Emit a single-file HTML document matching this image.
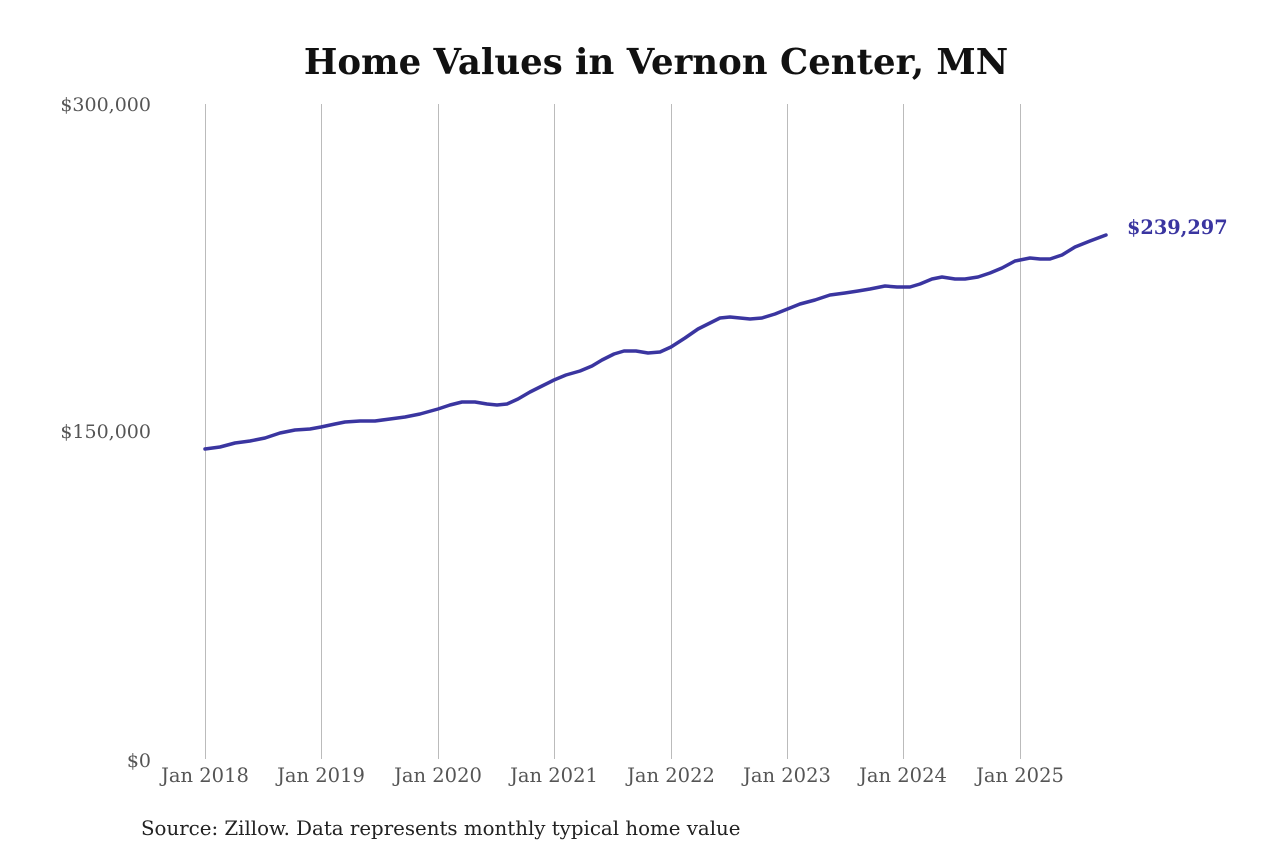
<!DOCTYPE html>
<html><head><meta charset="utf-8"><style>
html,body{margin:0;padding:0;background:#fff;}
svg{display:block;}
</style></head><body>
<svg width="1280" height="853" xmlns="http://www.w3.org/2000/svg" font-family="'DejaVu Serif','Liberation Serif',serif">
<rect width="1280" height="853" fill="#fff"/>
<text x="656" y="74" text-anchor="middle" font-size="35.5" font-weight="bold" fill="#111">Home Values in Vernon Center, MN</text>
<g stroke="#bbb" stroke-width="1">
<line x1="205.5" y1="104" x2="205.5" y2="759"/>
<line x1="321.5" y1="104" x2="321.5" y2="759"/>
<line x1="438.5" y1="104" x2="438.5" y2="759"/>
<line x1="554.5" y1="104" x2="554.5" y2="759"/>
<line x1="671.5" y1="104" x2="671.5" y2="759"/>
<line x1="787.5" y1="104" x2="787.5" y2="759"/>
<line x1="903.5" y1="104" x2="903.5" y2="759"/>
<line x1="1020.5" y1="104" x2="1020.5" y2="759"/>
</g>
<g font-size="19" fill="#555">
<text x="151" y="111" text-anchor="end">$300,000</text>
<text x="151" y="438" text-anchor="end">$150,000</text>
<text x="151" y="767" text-anchor="end">$0</text>
<g text-anchor="middle" font-size="19.5">
<text x="205" y="782">Jan 2018</text>
<text x="321" y="782">Jan 2019</text>
<text x="438" y="782">Jan 2020</text>
<text x="554" y="782">Jan 2021</text>
<text x="671" y="782">Jan 2022</text>
<text x="787" y="782">Jan 2023</text>
<text x="903" y="782">Jan 2024</text>
<text x="1020" y="782">Jan 2025</text>
</g>
</g>
<polyline fill="none" stroke="#3a35a0" stroke-width="3.5" stroke-linejoin="round" stroke-linecap="round"
points="205,449 220,447 235,443 250,441 265,438 280,433 295,430 310,429 321,427 335,424 345,422 360,421 375,421 390,419 405,417 420,414 438,409 450,405 462,402 475,402 487,404 497,405 507,404 518,399 530,392 542,386 554,380 566,375 580,371 592,366 602,360 614,354 624,351 636,351 648,353 660,352 671,347 685,338 698,329 710,323 720,318 730,317 740,318 750,319 762,318 775,314 790,308 800,304 815,300 830,295 845,293 858,291 870,289 885,286 897,287 910,287 920,284 932,279 942,277 955,279 965,279 978,277 990,273 1002,268 1015,261 1030,258 1040,259 1050,259 1062,255 1075,247 1090,241 1106,235"/>
<text x="1127" y="234" font-size="19.3" font-weight="bold" fill="#3a35a0">$239,297</text>
<text x="141" y="835" font-size="19.8" fill="#222">Source: Zillow. Data represents monthly typical home value</text>
</svg>
</body></html>
